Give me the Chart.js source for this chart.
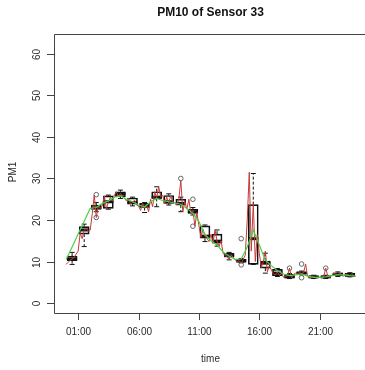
<!DOCTYPE html>
<html>
<head>
<meta charset="utf-8">
<script src="https://cdn.jsdelivr.net/npm/chart.js@4.4.1/dist/chart.umd.min.js"></script>
<style>
  html, body { margin: 0; padding: 0; background: #fff; overflow: hidden; }
  canvas { display: block; }
</style>
</head>
<body>
<canvas id="chart" width="365" height="370"></canvas>
<script>
// Axis ticks
const timeTickHours = [1, 6, 11, 16, 21];
const timeTickLabels = ['01:00', '06:00', '11:00', '16:00', '21:00'];
const pmTicks = [0, 10, 20, 30, 40, 50, 60];

// Hourly box statistics (hour 0 .. 23)
const boxLow    = [9.3, 13.6, 22.0, 22.6, 25.2, 23.4, 21.8, 23.2, 23.6, 22.0, 21.2, 14.8, 13.7, 10.4, 9.7, 9.3, 7.2, 6.4, 5.9, 6.8, 5.9, 5.9, 6.4, 6.3];
const boxQ1     = [10.2, 16.6, 22.6, 22.8, 25.6, 23.8, 23.0, 25.2, 24.0, 23.6, 21.6, 15.6, 14.4, 11.2, 10.0, 9.3, 8.4, 6.6, 6.1, 7.0, 6.1, 6.1, 6.6, 6.5];
const boxMedian = [10.6, 17.6, 22.9, 24.4, 26.3, 24.2, 23.4, 25.5, 24.4, 24.0, 22.0, 16.1, 14.9, 11.4, 10.1, 15.5, 9.6, 7.2, 6.3, 7.2, 6.3, 6.3, 6.9, 6.7];
const boxQ3     = [11.3, 18.4, 23.6, 25.8, 26.8, 25.3, 24.0, 26.8, 25.9, 25.0, 22.6, 18.6, 16.6, 12.0, 10.5, 23.7, 10.1, 8.1, 6.9, 7.5, 6.5, 6.5, 7.3, 7.2];
const boxHigh   = [12.2, 19.0, 24.2, 26.0, 27.2, 25.5, 24.2, 28.0, 26.3, 25.5, 23.0, 18.8, 17.6, 12.2, 10.7, 31.2, 12.0, 8.3, 7.1, 7.7, 6.7, 6.7, 7.5, 7.3];

// Outlying readings per hour
const outlierHour = [2, 2, 9, 10, 10, 14, 14, 18, 19, 19, 21];
const outlierPM   = [26.1, 20.6, 30.0, 25.0, 18.5, 15.5, 9.2, 8.4, 9.4, 6.1, 8.4];

// Raw 10-minute readings, six per hour from 00:00
const readingsPM = [
  9.3, 9.8, 10.3, 10.6, 11.0, 11.8,
  12.5, 16.8, 15.5, 17.5, 18.0, 17.3,
  17.6, 21.5, 26.0, 20.6, 23.2, 22.8,
  23.4, 25.8, 22.8, 24.2, 25.5, 24.6,
  26.0, 26.8, 25.6, 26.4, 25.8, 25.2,
  24.6, 25.3, 23.8, 24.2, 24.8, 23.6,
  23.4, 22.3, 24.0, 23.0, 23.6, 22.0,
  25.0, 23.2, 26.8, 25.3, 28.0, 25.6,
  25.9, 24.0, 25.5, 24.2, 25.8, 24.4,
  24.2, 23.6, 25.0, 29.5, 22.0, 24.5,
  22.6, 25.0, 21.6, 22.3, 18.5, 21.8,
  18.6, 15.8, 17.8, 16.0, 15.6, 14.8,
  16.6, 14.4, 17.6, 14.9, 13.7, 15.0,
  12.0, 11.4, 11.2, 10.4, 11.6, 11.0,
  10.4, 10.0, 10.2, 9.6, 10.5, 11.5,
  20.0, 31.5, 12.5, 24.0, 10.0, 16.5,
  12.0, 8.5, 10.0, 12.5, 7.5, 9.0,
  8.0, 7.0, 6.8, 7.5, 6.6, 7.2,
  6.2, 6.4, 6.6, 8.4, 6.1, 6.9,
  7.2, 7.0, 7.4, 7.1, 7.3, 9.4,
  6.3, 6.1, 6.2, 6.5, 6.0, 6.3,
  6.2, 6.1, 6.3, 8.4, 6.5, 6.1,
  6.7, 7.2, 7.0, 6.8, 7.3, 6.6,
  6.5, 7.0, 6.8, 6.6, 7.1, 6.5
];

// Smoothed trend, half-hourly
const smoothHour = [0, 0.5, 1, 1.5, 2, 2.5, 3, 3.5, 4, 4.5, 5, 5.5, 6, 6.5, 7, 7.5, 8, 8.5, 9, 9.5, 10, 10.5, 11, 11.5, 12, 12.5, 13, 13.5, 14, 14.5, 15, 15.5, 16, 16.5, 17, 17.5, 18, 18.5, 19, 19.5, 20, 20.5, 21, 21.5, 22, 22.5, 23, 23.5, 24];
const smoothPM   = [10.5, 13.5, 16.6, 19.7, 22.8, 23.0, 24.0, 24.6, 25.5, 25.8, 25.0, 24.4, 23.6, 23.2, 24.4, 25.2, 24.7, 24.4, 24.1, 23.8, 22.8, 21.6, 19.6, 16.5, 15.0, 14.0, 12.3, 11.3, 10.5, 10.6, 13.5, 17.6, 14.0, 10.3, 9.0, 7.8, 7.0, 6.6, 6.8, 7.0, 6.5, 6.2, 6.2, 6.3, 6.6, 6.8, 6.8, 6.6, 6.5];

const FONT = '"Liberation Sans", Arial, Helvetica, sans-serif';
const INK = '#2a2a2a';

// Medians, dashed whiskers and staples for each hourly box
const boxParts = {
  id: 'boxParts',
  afterDatasetDraw(chart, args) {
    if (args.index !== 0) return;
    const { ctx, scales: { x, y } } = chart;
    const meta = chart.getDatasetMeta(0);
    ctx.save();
    ctx.strokeStyle = '#111';
    meta.data.forEach((bar, i) => {
      const cx = x.getPixelForValue(i + 0.5);
      const half = bar.width / 2;
      const staple = half / 2;
      const yLo = y.getPixelForValue(boxLow[i]);
      const yQ1 = y.getPixelForValue(boxQ1[i]);
      const yQ3 = y.getPixelForValue(boxQ3[i]);
      const yHi = y.getPixelForValue(boxHigh[i]);
      const yMed = y.getPixelForValue(boxMedian[i]);
      ctx.lineWidth = 1;
      ctx.setLineDash([3, 2]);
      ctx.beginPath();
      ctx.moveTo(cx, yQ3); ctx.lineTo(cx, yHi);
      ctx.moveTo(cx, yQ1); ctx.lineTo(cx, yLo);
      ctx.stroke();
      ctx.setLineDash([]);
      ctx.beginPath();
      ctx.moveTo(cx - staple, yHi); ctx.lineTo(cx + staple, yHi);
      ctx.moveTo(cx - staple, yLo); ctx.lineTo(cx + staple, yLo);
      ctx.stroke();
      ctx.lineWidth = 3;
      ctx.beginPath();
      ctx.moveTo(cx - half, yMed); ctx.lineTo(cx + half, yMed);
      ctx.stroke();
    });
    ctx.restore();
  }
};

// Frame, ticks and all text around the plot region
const frameAndText = {
  id: 'frameAndText',
  afterDraw(chart) {
    const { ctx, chartArea: a, scales: { x, y } } = chart;
    ctx.save();
    ctx.strokeStyle = '#444';
    ctx.lineWidth = 1;
    ctx.beginPath();
    ctx.moveTo(chart.width, a.top + 0.5); ctx.lineTo(a.left + 0.5, a.top + 0.5);
    ctx.lineTo(a.left + 0.5, a.bottom + 0.5); ctx.lineTo(chart.width, a.bottom + 0.5);
    ctx.stroke();

    ctx.fillStyle = INK;
    ctx.font = '10px ' + FONT;
    ctx.textAlign = 'center';
    ctx.textBaseline = 'middle';

    timeTickHours.forEach((h, i) => {
      const px = Math.round(x.getPixelForValue(h)) + 0.5;
      ctx.beginPath();
      ctx.moveTo(px, a.bottom); ctx.lineTo(px, a.bottom + 7);
      ctx.stroke();
      ctx.fillText(timeTickLabels[i], px, a.bottom + 19);
    });

    pmTicks.forEach(v => {
      const py = Math.round(y.getPixelForValue(v)) + 0.5;
      ctx.beginPath();
      ctx.moveTo(a.left - 7, py); ctx.lineTo(a.left, py);
      ctx.stroke();
      ctx.save();
      ctx.translate(a.left - 17, py);
      ctx.rotate(-Math.PI / 2);
      ctx.fillText(String(v), 0, 0);
      ctx.restore();
    });

    ctx.fillText('time', 210.5, a.bottom + 46);
    ctx.save();
    ctx.translate(13, 172);
    ctx.rotate(-Math.PI / 2);
    ctx.fillText('PM1', 0, 0);
    ctx.restore();

    ctx.font = 'bold 12px ' + FONT;
    ctx.fillStyle = '#111';
    ctx.fillText('PM10 of Sensor 33', 210.5, 13);
    ctx.restore();
  }
};

new Chart(document.getElementById('chart'), {
  type: 'line',
  data: {
    datasets: [
      {
        type: 'bar',
        label: 'hourly box',
        data: boxQ1.map((q, i) => ({ x: i + 0.5, y: [q, boxQ3[i]] })),
        backgroundColor: 'rgba(255,255,255,0)',
        borderColor: '#111',
        borderWidth: 1,
        borderSkipped: false,
        barThickness: 10,
        order: 4
      },
      {
        label: 'outliers',
        data: outlierHour.map((h, i) => ({ x: h + 0.5, y: outlierPM[i] })),
        showLine: false,
        pointStyle: 'circle',
        pointRadius: 2.3,
        pointBorderWidth: 1,
        pointBorderColor: '#666',
        pointBackgroundColor: 'rgba(255,255,255,0)',
        order: 3
      },
      {
        label: 'PM readings',
        data: readingsPM.map((v, i) => ({ x: i / 6, y: v })),
        borderColor: '#c23a3a',
        borderWidth: 1,
        pointRadius: 0,
        tension: 0,
        order: 2
      },
      {
        label: 'trend',
        data: smoothHour.map((h, i) => ({ x: h, y: smoothPM[i] })),
        borderColor: '#4ccf46',
        borderWidth: 1.2,
        pointRadius: 0,
        tension: 0,
        order: 1
      }
    ]
  },
  options: {
    responsive: false,
    animation: false,
    events: [],
    layout: { autoPadding: false, padding: { left: 54, top: 34, right: 0, bottom: 57 } },
    plugins: {
      legend: { display: false },
      title: { display: false },
      tooltip: { enabled: false }
    },
    scales: {
      x: { type: 'linear', display: false, offset: false, min: -1.0, max: 24.75 },
      y: { type: 'linear', display: false, min: -2.4, max: 64.8 }
    }
  },
  plugins: [boxParts, frameAndText]
});
</script>
</body>
</html>
